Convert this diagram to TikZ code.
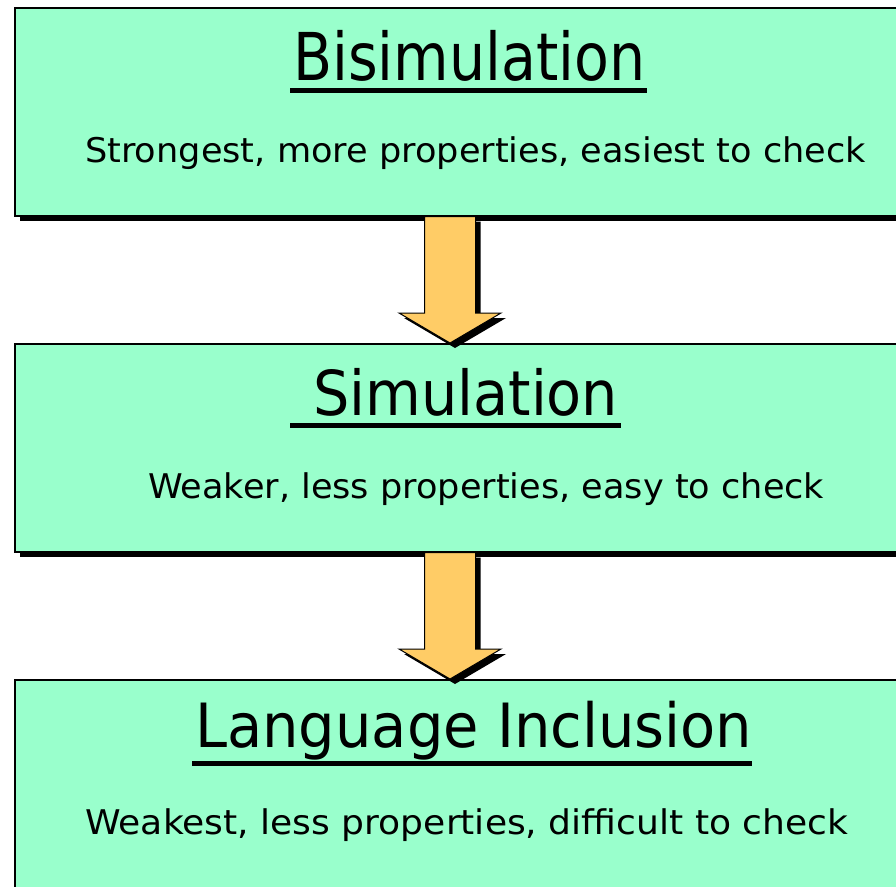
\documentclass[tikz,border=0pt]{standalone}
\usepackage{fontspec}
\setmainfont{DejaVu Sans}
\usetikzlibrary{calc}
\definecolor{mint}{HTML}{99FFCC}
\definecolor{amber}{HTML}{FFCC66}
% set a text in a given font size, stretched horizontally to a given width
\newcommand{\fitline}[3]{\resizebox{#1pt}{\height}{\fontsize{#2}{#2}\selectfont #3}}
\begin{document}
\begin{tikzpicture}[x=1pt,y=-1pt,
  stage/.style={draw=black, line width=1.6pt, fill=mint, rectangle,
    minimum width=900pt, minimum height=208pt, inner sep=0pt, anchor=north west},
  stageshadow/.style={fill=black},
  heading/.style={anchor=base west, inner sep=0pt},
  caption/.style={anchor=base west, inner sep=0pt},
  rule/.style={line width=5pt},
  flow/.style={draw=black, line width=1pt, fill=amber, line join=miter},
  flowshadow/.style={fill=black}]
\useasboundingbox (0,0) rectangle (896,886);
\clip (0,0) rectangle (896,886);

% drop shadows of the three stages
\fill[stageshadow] (20,13) rectangle (920,221);
\fill[stageshadow] (20,349) rectangle (920,557);
\fill[stageshadow] (20,685) rectangle (920,893);

% the three stages
\node[stage] (bisim) at (14,7) {};
\node[stage] (sim) at (14,343) {};
\node[stage] (lang) at (14,679) {};

% headings
\node[heading] (t1) at (293,80) {\fitline{352}{66}{Bisimulation}};
\node[heading] (t2) at (313,415) {\fitline{305}{62}{Simulation}};
\node[heading] (t3) at (195,747) {\fitline{557}{61}{Language Inclusion}};
\draw[rule] ($(t1.base west)+(-3,10)$) -- ($(t1.base east)+(2,10)$);
\draw[rule] ($(t2.base west)+(-23,10)$) -- ($(t2.base east)+(3,10)$);
\draw[rule] ($(t3.base west)+(-3,16)$) -- ($(t3.base east)+(0,16)$);

% captions
\node[caption] (c1) at (85,162) {\fitline{781}{34}{Strongest, more properties, easiest to check}};
\node[caption] (c2) at (148,498) {\fitline{676}{34}{Weaker, less properties, easy to check}};
\node[caption] (c3) at (85,834) {\fitline{763}{34}{Weakest, less properties, difficult to check}};

% block arrows between the stages
\coordinate (ax) at (450,0);
\foreach \a/\b in {bisim/sim, sim/lang}{
  \coordinate (top) at (\a.south -| ax);
  \coordinate (tip) at (\b.north -| ax);
  \fill[flowshadow]
    ($(top)+(-20.5,5)$) -- ($(top)+(30.5,5)$) -- ($(tip)+(30.5,-25)$) -- ($(tip)+(56,-25)$)
    -- ($(tip)+(5,5)$) -- ($(tip)+(-46,-25)$) -- ($(tip)+(-20.5,-25)$) -- cycle;
  \filldraw[flow]
    ($(top)+(-25.5,0)$) -- ($(top)+(25.5,0)$) -- ($(tip)+(25.5,-30)$) -- ($(tip)+(51,-30)$)
    -- (tip) -- ($(tip)+(-51,-30)$) -- ($(tip)+(-25.5,-30)$) -- cycle;
}
\end{tikzpicture}
\end{document}
